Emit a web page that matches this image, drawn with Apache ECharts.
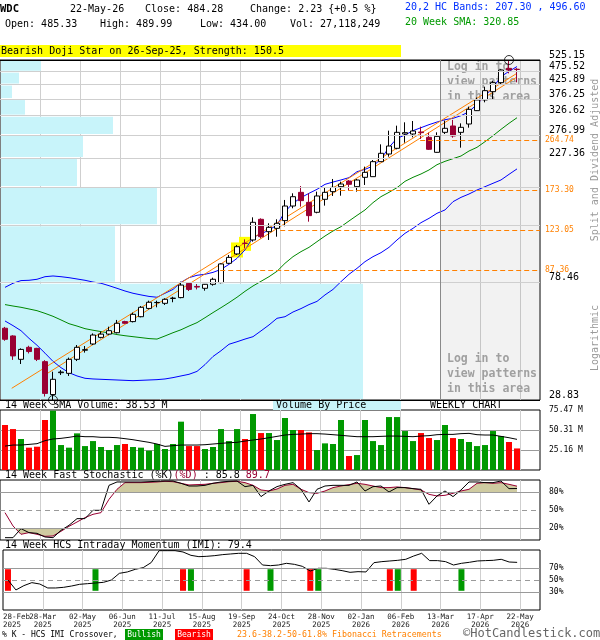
<!DOCTYPE html>
<html><head><meta charset="utf-8">
<script src="https://cdn.jsdelivr.net/npm/echarts@6/dist/echarts.min.js"></script>
<style>html,body{margin:0;padding:0;background:#fff}#c{width:600px;height:640px}</style>
</head><body><div id="c"></div>
<script>
// ---------------- data (weekly, 28-Feb-2025 .. 22-May-2026) ----------------
const tickLabels = ['28-Feb\n2025','28-Mar\n2025','02-May\n2025','06-Jun\n2025','11-Jul\n2025','15-Aug\n2025','19-Sep\n2025','24-Oct\n2025','28-Nov\n2025','02-Jan\n2026','06-Feb\n2026','13-Mar\n2026','17-Apr\n2026','22-May\n2026'];
const lastDate = '22-May-26';
const opens = [53.2,49.8,40.8,45.2,44.8,40.0,30.2,36.4,36.2,40.8, 44.1,46.5,49.2,50.6,51.2,56.3,56.3,58.7,63.0,66.2, 65.8,68.6,69.1,78.0,76.0,74.8,77.4,78.5,92.6,100.3, 109.9,113.0,134.8,121.3,124.8,133.3,151.0,169.7,155.8,143.1, 159.9,170.7,178.1,186.9,178.1,192.9,194.0,220.5,235.4,247.1, 279.2,279.2,284.0,271.4,238.8,283.2,299.0,283.2,304.1,340.8, 373.3,400.8,432.8,489.1,485.33];
const highs = [53.8,50.1,44.8,45.8,45.0,40.5,36.7,37.2,41.4,46.1, 45.7,50.9,51.7,53.9,57.1,56.7,60.8,64.3,67.3,67.3, 68.7,69.6,79.2,78.5,77.6,77.6,81.9,92.6,99.4,108.3, 113.6,137.1,135.9,130.3,134.8,159.0,168.3,179.1,168.3,170.7, 177.1,190.2,185.9,188.5,190.2,211.3,223.6,255.6,287.3,299.8, 308.5,312.0,297.3,282.4,283.2,312.9,315.0,305.8,352.6,381.0, 418.2,440.2,484.9,525.15,489.99];
const lows = [47.8,40.6,39.2,42.9,40.2,29.7,28.83,35.7,35.4,40.2, 43.2,46.1,48.8,50.1,50.9,55.2,55.9,58.4,62.5,63.6, 64.9,66.4,68.7,73.1,74.1,73.3,76.5,78.0,92.1,99.4, 105.2,111.4,114.6,113.0,116.2,127.0,148.1,150.2,132.1,141.9, 151.5,164.5,164.9,172.1,170.7,180.7,194.0,220.5,230.1,245.0, 259.3,271.4,267.6,243.6,238.1,279.2,270.6,248.5,294.7,339.8, 365.9,375.4,427.9,468.6,434.00];
const closes = [48.4,42.0,44.4,43.6,40.8,30.5,34.4,36.6,40.8,45.2, 44.3,50.2,50.6,52.1,55.5,55.5,59.9,63.6,66.4,66.3, 68.1,68.8,76.9,74.1,75.6,77.4,80.8,92.1,97.4,106.7, 109.7,131.4,116.2,125.9,130.3,151.0,163.5,158.1,139.1,164.5, 169.7,177.1,182.2,181.7,188.5,201.3,220.5,236.8,252.0,283.2, 282.4,286.5,282.5,245.0,273.7,293.1,274.5,295.6,344.7,373.3, 404.2,432.8,482.2,482.05,484.28];
const lastVolume = 27118249;
const volumes = [56.6,51.5,39.0,28.1,29.3,62.9,74.6,31.4,28.1,46.1, 30.1,36.4,28.9,25.1,31.4,32.7,28.9,28.1,24.3,32.7, 26.4,32.7,60.8,30.1,30.1,26.4,28.9,51.5,36.4,51.5, 39.0,70.4,46.5,46.5,37.7,65.4,50.3,50.3,47.3,25.1, 33.5,32.7,62.9,17.6,18.8,62.9,36.4,31.4,66.6,66.6, 49.0,36.4,46.5,40.2,37.7,56.6,40.2,39.0,35.2,30.1, 31.4,49.0,42.7,35.2,27.12];
const volSma = [30.1,31.4,31.4,32.2,33.1,36.9,39.0,39.8,41.1,42.7, 41.9,41.9,41.1,41.1,40.6,39.4,38.1,36.4,34.8,32.7, 29.7,30.6,31.4,31.4,31.4,31.8,32.7,33.5,34.3,34.8, 36.4,37.7,39.0,40.6,42.3,44.0,44.8,45.2,45.7,45.7, 45.2,44.4,43.6,42.7,41.9,41.9,41.9,42.3,42.7,42.7, 42.3,41.9,42.7,43.2,44.4,44.8,44.8,45.7,46.1,44.4, 44.0,44.0,42.3,40.6,38.53];
const bbUpper = [75.4,78.1,79.9,80.1,80.8,82.6,83.1,82.6,81.9,81.0, 80.1,78.9,78.1,76.5,74.8,73.1,71.7,70.7,69.8,69.3, 71.7,74.1,78.7,81.9,83.6,84.3,85.7,87.9,91.8,96.6, 103.8,115.6,118.9,123.1,128.4,143.9,154.5,162.2,168.3,174.1, 181.7,185.3,188.6,192.4,202.4,206.5,212.4,225.5,249.2,269.1, 276.8,287.3,294.7,302.4,309.3,315.5,319.2,326.5,337.8,359.7, 386.1,415.9,455.5,476.7,496.60];
const sma20 = [65.1,64.3,63.6,62.7,61.8,60.4,58.9,57.1,55.3,54.2, 53.0,52.3,51.7,51.1,50.4,49.9,49.5,49.1,48.7,48.5, 49.8,51.2,52.5,54.2,55.8,58.2,60.8,63.4,66.2,69.3, 72.9,76.3,79.4,82.6,86.5,92.6,98.0,102.3,106.1,111.4, 116.9,122.0,126.6,132.9,139.4,146.0,155.4,163.6,169.7,176.6, 186.4,192.9,198.5,205.4,214.9,221.1,226.2,231.4,241.5,249.2, 261.5,275.2,290.5,305.9,320.85];
const bbLower = [56.6,54.4,52.1,48.8,46.0,43.0,40.1,38.0,36.4,35.4, 34.7,34.5,34.4,34.3,34.2,34.1,34.0,34.1,34.2,34.3, 34.5,34.9,35.4,35.9,36.8,39.0,41.8,43.9,46.4,47.4, 48.5,49.5,52.0,54.7,57.9,58.7,61.1,62.9,65.1,66.9, 70.7,74.1,79.2,84.3,88.7,93.9,98.0,101.4,106.1,113.0, 119.6,124.8,131.0,135.9,141.9,146.0,156.7,162.6,167.3,173.1, 178.1,183.3,188.6,197.9,207.30];
const stochK = [3.9,3.9,18.9,12.3,11.1,5.0,3.9,16.1,24.5,35.6, 35.6,49.5,49.5,91.1,96.7,96.7,96.7,96.7,97.2,97.8, 98.3,98.3,94.5,90.0,90.0,91.1,94.5,96.7,97.8,98.3, 88.9,91.1,72.3,81.7,89.0,92.8,95.6,84.5,63.4,84.5, 90.0,91.1,91.1,91.1,96.7,81.7,88.9,90.0,80.0,87.3, 87.3,85.6,84.5,59.5,73.4,81.7,72.3,83.4,96.7,96.7, 95.6,95.6,98.3,85.6,85.8];
const stochD = [45.6,23.4,9.5,12.3,9.5,6.1,6.7,14.5,22.8,30.0, 37.3,42.8,45.6,67.8,84.5,95.6,95.6,95.6,96.1,96.7, 97.8,97.2,94.5,91.7,92.3,92.8,94.5,95.6,97.2,97.8, 95.6,91.1,83.4,81.7,85.0,91.1,92.8,84.5,79.0,77.8, 81.7,87.3,90.0,92.3,94.5,92.8,90.0,87.3,87.3,88.4, 87.3,85.6,83.4,76.1,73.4,74.5,77.8,81.7,84.5,94.5, 95.6,94.5,95.6,92.8,89.7];
const imi = [50,33.4,40.6,45.6,43.3,36.7,36.7,37.8,40,42.8, 43.9,45,46.1,50,61.1,63.4,67.8,70.6,79,98.9, 98.9,98.9,96.7,91.1,88.9,89.5,90.6,92.3,93.4,94.5, 94.5,88.9,75,73.9,75,77.8,76.1,72.8,65,69.5, 69.5,67.8,65.6,62.8,63.9,63.4,78.9,80.6,81.7,82.8, 84.5,90,94.5,82.3,82.3,80.6,75,77.8,79.5,81.7, 82.3,82.8,84.5,80,79.4];
const imiBullish = [11,23,33,39,49,57];
const imiBearish = [0,22,30,38,48,51];
const priceLevels = [28.83,78.46,128.09,177.72,227.36,276.99,326.62,376.25,425.89,475.52,525.15];
const priceLabelsHidden = [128.09,177.72];
const vbpShare = [36.3,11.5,15.7,7.7,8.3,11.3,2.5,1.2,1.9,4.1]; // % of volume per price band, bottom to top
const fibLevels = [264.74,173.30,123.05,87.36];
const fibFromWeek = [51.9,41.9,34.4,26.9];
const trendA = [[0.84,31.86],[64,468.9]];
const trendB = [[4.79,35.4],[64,454.2]];
const patternWeeks = [29,30];
const patternText = 'Bearish Doji Star on 26-Sep-25, Strength: 150.5';

// ---------------- chart ----------------
const FONT = 'DejaVu Sans Mono';
const N = closes.length;
const X = i => i + 0.625;           // week index -> axis value (centre of the week slot)
const chart = echarts.init(document.getElementById('c'), null, {width:600, height:640});

const labelStyle = {fontFamily:FONT, fontSize:7.5, lineHeight:8, color:'#222', margin:3, hideOverlap:false};
function wkAxis(gi, labels){
  return {type:'value', gridIndex:gi, position:'bottom', min:0, max:67.5, interval:5,
    axisLine:{show:false}, axisTick:{show:false},
    splitLine:{show:true, showMinLine:false, showMaxLine:false, lineStyle:{color:'#cfcfcf', width:1}},
    axisLabel: labels ? Object.assign({show:true, formatter:v=>tickLabels[Math.round(v/5)]||'',
      showMinLabel:false, showMaxLabel:false}, labelStyle) : {show:false}};
}
// separate axis carrying only the first (left-aligned) date label
const firstLabelAxis = {type:'value', gridIndex:3, position:'bottom', min:0, max:67.5, interval:5,
  axisLine:{show:false}, axisTick:{show:false}, splitLine:{show:false},
  axisLabel:Object.assign({show:true, formatter:v=>v===0?tickLabels[0]:'', alignMinLabel:'left', showMinLabel:true, showMaxLabel:false}, labelStyle)};
const last = a => a[a.length-1];
const bear = i => closes[i] < opens[i];

function threshFill(T, above){
  return (params, api) => {
    const x0=api.value(0), d0=api.value(1), x1=api.value(2), d1=api.value(3);
    const a = above ? d0-T : T-d0, b = above ? d1-T : T-d1;
    if (a <= 0 && b <= 0) return null;
    let pts;
    if (a >= 0 && b >= 0) pts = [[x0,d0],[x1,d1],[x1,T],[x0,T]];
    else { const xc = x0 + (x1-x0)*a/(a-b); pts = a > 0 ? [[x0,d0],[xc,T],[x0,T]] : [[xc,T],[x1,d1],[x1,T]]; }
    return {type:'polygon', shape:{points:pts.map(p=>api.coord(p))}, style:{fill:'#cfcba1'}};
  };
}
const segData = stochD.slice(0,-1).map((d,i)=>[X(i), d, X(i+1), stochD[i+1]]);
const hline = (v, dashed, txt) => ({yAxis:v, lineStyle:{color:'#9a9a9a', width:1, type:dashed?[5,4]:'solid'},
  label:{show:true, position:'end', distance:9, formatter:txt, color:'#000', fontFamily:FONT, fontSize:8}});

const lowIdx = lows.indexOf(Math.min(...lows));
const highIdx = highs.indexOf(Math.max(...highs));
const vbpRows = vbpShare.map((s,k)=>[s, priceLevels[k], priceLevels[k+1]]);
const edgeLevel = k => k === 0 || k === priceLevels.length-1;

const series = [
  // frame: grey "log in" zone, price grid, zone divider
  {type:'line', xAxisIndex:0, yAxisIndex:0, z:0.5, data:[[X(0), closes[0]]], showSymbol:false, lineStyle:{opacity:0}, silent:true,
    markArea:{silent:true, itemStyle:{color:'rgba(128,128,128,0.1)'}, data:[[{xAxis:55},{xAxis:67.5}]]},
    markLine:{silent:true, symbol:['none','none'], animation:false,
      data: priceLevels.map((v,k)=>({yAxis:v,
        lineStyle:{color: edgeLevel(k) ? '#000' : '#cfcfcf', width:1, type:'solid'},
        label:{show:!priceLabelsHidden.includes(v), position:'end', distance:9, verticalAlign:'bottom', formatter:v.toFixed(2),
          color:'#000', fontFamily:FONT, fontSize:10}}))
        .concat([{xAxis:55, lineStyle:{color:'#8a8a8a', width:1, type:'solid'}, label:{show:false}}])}},
  // volume by price
  {type:'custom', xAxisIndex:4, yAxisIndex:0, z:1, silent:true, data:vbpRows,
    renderItem:(p, api)=>{ const a = api.coord([0, api.value(2)]), b = api.coord([api.value(0), api.value(1)]);
      return {type:'rect', shape:{x:a[0]+1, y:a[1]+1, width:b[0]-a[0]-1, height:b[1]-a[1]-2}, style:{fill:'#c8f4fa'}}; }},
  // fibonacci retracements
  {type:'line', xAxisIndex:0, yAxisIndex:0, z:2, data:[[X(0), closes[0]]], showSymbol:false, lineStyle:{opacity:0}, silent:true,
    markLine:{silent:true, symbol:['none','none'], animation:false,
      data: fibLevels.map((lv,k)=>[{coord:[X(fibFromWeek[k]), lv], lineStyle:{color:'#ff8000', width:1, type:[5,3]},
        label:{show:true, position:'end', distance:5, formatter:lv.toFixed(2), color:'#ff8000', fontFamily:FONT, fontSize:8}},
        {coord:[67.5, lv]}])}},
  // pattern highlight
  {type:'custom', xAxisIndex:0, yAxisIndex:0, z:2.5, silent:true, data:patternWeeks.map(i=>[X(i), lows[i], highs[i]]),
    renderItem:(p, api)=>{ const h = api.coord([api.value(0), api.value(2)]), l = api.coord([api.value(0), api.value(1)]);
      return {type:'rect', shape:{x:h[0]-6, y:h[1]-2.5, width:12, height:l[1]-h[1]+5}, style:{fill:'#ffff00'}}; }},
  {type:'line', xAxisIndex:0, yAxisIndex:0, z:3, data:bbUpper.map((v,i)=>[X(i),v]), showSymbol:false, lineStyle:{color:'#0000ff', width:1}},
  {type:'line', xAxisIndex:0, yAxisIndex:0, z:3, data:sma20.map((v,i)=>[X(i),v]), showSymbol:false, lineStyle:{color:'#008800', width:1}},
  {type:'line', xAxisIndex:0, yAxisIndex:0, z:3, data:bbLower.map((v,i)=>[X(i),v]), showSymbol:false, lineStyle:{color:'#0000ff', width:1}},
  {type:'line', xAxisIndex:0, yAxisIndex:0, z:3, data:trendA.map(p=>[X(p[0]),p[1]]), showSymbol:false, lineStyle:{color:'#ff8000', width:1}},
  {type:'line', xAxisIndex:0, yAxisIndex:0, z:3, data:trendB.map(p=>[X(p[0]),p[1]]), showSymbol:false, lineStyle:{color:'#ff8000', width:1}},
  {type:'candlestick', xAxisIndex:0, yAxisIndex:0, z:4, barWidth:6, encode:{x:0, y:[1,2,3,4]},
    data:closes.map((c,i)=>[X(i), opens[i], c, lows[i], highs[i]]),
    itemStyle:{color:'#ffffff', color0:'#990033', borderColor:'#000000', borderColor0:'#990033', borderWidth:1}},
  {type:'scatter', xAxisIndex:0, yAxisIndex:0, z:5, symbol:'circle', symbolSize:9, clip:false, silent:true,
    data:[[X(lowIdx), lows[lowIdx]],[X(highIdx), highs[highIdx]]],
    itemStyle:{color:'rgba(0,0,0,0)', borderColor:'#000', borderWidth:1}},
  // volume
  {type:'bar', xAxisIndex:1, yAxisIndex:1, z:2, barWidth:6,
    data:volumes.map((v,i)=>({value:[X(i), v], itemStyle:{color: bear(i) ? '#ff0000' : '#009900'}}))},
  {type:'line', xAxisIndex:1, yAxisIndex:1, z:3, data:volSma.map((v,i)=>[X(i),v]), showSymbol:false, lineStyle:{color:'#000', width:1}},
  // stochastic
  {type:'custom', xAxisIndex:2, yAxisIndex:2, z:1, silent:true, data:segData, renderItem:threshFill(80,true)},
  {type:'custom', xAxisIndex:2, yAxisIndex:2, z:1, silent:true, data:segData, renderItem:threshFill(20,false)},
  {type:'line', xAxisIndex:2, yAxisIndex:2, z:1.5, data:[[X(0), 50]], showSymbol:false, lineStyle:{opacity:0}, silent:true,
    markLine:{silent:true, symbol:['none','none'], animation:false, data:[hline(80,false,'80%'), hline(50,true,'50%'), hline(20,false,'20%')]}},
  {type:'line', xAxisIndex:2, yAxisIndex:2, z:3, data:stochD.map((v,i)=>[X(i),v]), showSymbol:false, lineStyle:{color:'#990033', width:1}},
  {type:'line', xAxisIndex:2, yAxisIndex:2, z:4, data:stochK.map((v,i)=>[X(i),v]), showSymbol:false, lineStyle:{color:'#000', width:1}},
  // IMI
  {type:'line', xAxisIndex:3, yAxisIndex:3, z:1, data:[[X(0), 50]], showSymbol:false, lineStyle:{opacity:0}, silent:true,
    markLine:{silent:true, symbol:['none','none'], animation:false, data:[hline(70,false,'70%'), hline(50,true,'50%'), hline(30,false,'30%')]}},
  {type:'custom', xAxisIndex:3, yAxisIndex:3, z:2, silent:true,
    data: imiBullish.map(i=>[X(i),1]).concat(imiBearish.map(i=>[X(i),0])),
    renderItem:(p, api)=>{ const t = api.coord([api.value(0), 68]), b = api.coord([api.value(0), 32]);
      return {type:'rect', shape:{x:t[0]-3, y:t[1], width:6, height:b[1]-t[1]}, style:{fill: api.value(1) ? '#009900' : '#ff0000'}}; }},
  {type:'line', xAxisIndex:3, yAxisIndex:3, z:3, data:imi.map((v,i)=>[X(i),v]), showSymbol:false, lineStyle:{color:'#000', width:1}}
];

// ---------------- texts ----------------
const F = (px, bold) => `${bold?'bold ':''}${px}px ${FONT}`;
const T = (x, y, text, o={}) => ({type:'text', x, y, z:o.z ?? 10, silent:true, rotation:o.rot||0,
  style:Object.assign({text, fill:'#000', font:F(10), align:'left', verticalAlign:'middle'}, o.s||{})});
const R = (x, y, w, h, fill, z=9) => ({type:'rect', z, silent:true, shape:{x, y, width:w, height:h}, style:{fill}});
const chg = last(closes) - closes[N-2];
const pct = chg / closes[N-2] * 100;
const sgn = v => (v >= 0 ? '+' : '') ;
const gray = '#a0a0a0';
const elements = [
  T(0, 9.5, 'WDC', {s:{font:F(10.5,true)}}),
  T(70, 9.5, lastDate),
  T(145, 9.5, 'Close: ' + last(closes).toFixed(2)),
  T(250, 9.5, `Change: ${chg.toFixed(2)} {${sgn(chg)}${pct.toFixed(1)} %}`),
  T(5, 24, 'Open: ' + last(opens).toFixed(2)),
  T(100, 24, 'High: ' + last(highs).toFixed(2)),
  T(200, 24, 'Low: ' + last(lows).toFixed(2)),
  T(290, 24, 'Vol: ' + lastVolume.toLocaleString('en-US')),
  T(405, 7.5, `20,2 HC Bands: ${last(bbLower).toFixed(2)} , ${last(bbUpper).toFixed(2)}`, {s:{fill:'#0030ff'}}),
  T(405, 22.5, `20 Week SMA: ${last(sma20).toFixed(2)}`, {s:{fill:'#009900'}}),
  R(0, 45, 401, 12, '#ffff00'),
  T(1, 51, patternText),
  // login zone notes
  T(447, 67.5, 'Log in to', {z:2.6, s:{font:F(11.5,true), fill:gray}}),
  T(447, 82.5, 'view patterns', {z:2.6, s:{font:F(11.5,true), fill:gray}}),
  T(447, 97.5, 'in this area', {z:2.6, s:{font:F(11.5,true), fill:gray}}),
  T(447, 359, 'Log in to', {z:2.6, s:{font:F(11.5,true), fill:gray}}),
  T(447, 374, 'view patterns', {z:2.6, s:{font:F(11.5,true), fill:gray}}),
  T(447, 389, 'in this area', {z:2.6, s:{font:F(11.5,true), fill:gray}}),
  // right side notes
  T(595, 160, 'Split and Dividend Adjusted', {rot:Math.PI/2, s:{align:'center', fill:'#9a9a9a'}}),
  T(595, 338, 'Logarithmic', {rot:Math.PI/2, s:{align:'center', fill:'#9a9a9a'}}),
  // panel titles
  T(5, 405.5, `14 Week SMA Volume: ${last(volSma).toFixed(2)} M`),
  R(273, 401, 128, 9, '#c8f4fa'),
  T(276, 405.5, 'Volume By Price'),
  T(430, 405.5, 'WEEKLY CHART'),
  {type:'text', x:5, y:475.5, z:10, silent:true, style:{
    text:`{k|14 Week Fast Stochastic (%K)}{d|(%D)}{k| : ${last(stochK).toFixed(1)} }{d|${last(stochD).toFixed(1)}}`,
    font:F(10), align:'left', verticalAlign:'middle',
    rich:{k:{fill:'#000', font:F(10)}, d:{fill:'#990033', font:F(10)}}}},
  T(5, 545.5, `14 Week HCS Intraday Momentum (IMI): ${last(imi).toFixed(1)}`),
  // footer
  T(2, 634.5, '% K - HCS IMI Crossover,', {s:{font:F(8)}}),
  R(125, 629, 38, 11, '#009900'),
  T(144, 634.5, 'Bullish', {s:{font:F(8), fill:'#fff', align:'center'}}),
  R(175, 629, 38, 11, '#ff0000'),
  T(194, 634.5, 'Bearish', {s:{font:F(8), fill:'#fff', align:'center'}}),
  T(237, 634.5, '23.6-38.2-50-61.8% Fibonacci Retracements', {s:{font:F(8.3), fill:'#ff8000'}}),
  T(463, 634, '\u00A9HotCandlestick.com', {s:{font:F(12), fill:'#666'}})
];

const option = {
  animation:false, backgroundColor:'#fff', textStyle:{fontFamily:FONT},
  grid:[
    {left:0, top:60, width:540, height:340, show:true, borderColor:'#000', borderWidth:1, backgroundColor:'rgba(0,0,0,0)'},
    {left:0, top:410, width:540, height:60, show:true, borderColor:'#000', borderWidth:1, backgroundColor:'rgba(0,0,0,0)'},
    {left:0, top:480, width:540, height:60, show:true, borderColor:'#000', borderWidth:1, backgroundColor:'rgba(0,0,0,0)'},
    {left:0, top:550, width:540, height:60, show:true, borderColor:'#000', borderWidth:1, backgroundColor:'rgba(0,0,0,0)'}
  ],
  xAxis:[wkAxis(0,false), wkAxis(1,false), wkAxis(2,false), wkAxis(3,true),
    {type:'value', gridIndex:0, position:'top', min:0, max:54, show:false}, firstLabelAxis],
  yAxis:[
    {type:'log', gridIndex:0, min:priceLevels[0], max:last(priceLevels), logBase:10, show:false},
    {type:'value', gridIndex:1, min:0, max:75.47, interval:75.47/3, position:'right',
      axisLine:{show:false}, axisTick:{show:false},
      splitLine:{show:true, showMinLine:false, showMaxLine:false, lineStyle:{color:'#9a9a9a'}},
      axisLabel:{showMinLabel:false, formatter:v=>v.toFixed(2)+' M', fontFamily:FONT, fontSize:8, color:'#000', margin:9}},
    {type:'value', gridIndex:2, min:0, max:100, show:false},
    {type:'value', gridIndex:3, min:0, max:100, show:false}
  ],
  series,
  graphic:{elements}
};
chart.setOption(option);
</script></body></html>
